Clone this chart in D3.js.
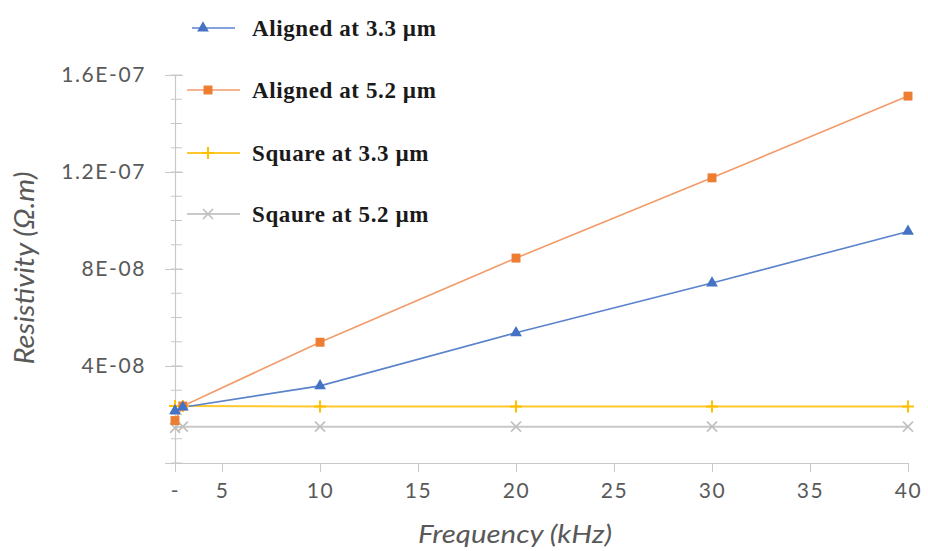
<!DOCTYPE html>
<html>
<head>
<meta charset="utf-8">
<script src="https://cdn.jsdelivr.net/npm/d3@7"></script>
<style>
  html, body { margin: 0; padding: 0; background: #fff; }
  svg { display: block; }
</style>
</head>
<body>
<div id="chart"></div>
<script>
// Data
const frequencies = [2.6, 3.0, 10, 20, 30, 40];
const alignedAt33 = [2.15e-8, 2.3e-8, 3.18e-8, 5.37e-8, 7.42e-8, 9.55e-8];
const alignedAt52 = [1.75e-8, 2.35e-8, 4.98e-8, 8.45e-8, 1.176e-7, 1.513e-7];
const squareAt33 = [2.35e-8, 2.35e-8, 2.33e-8, 2.33e-8, 2.33e-8, 2.33e-8];
const squareAt52 = [1.45e-8, 1.5e-8, 1.5e-8, 1.5e-8, 1.5e-8, 1.5e-8];
const seriesNames = ['Aligned at 3.3 µm', 'Aligned at 5.2 µm', 'Square at 3.3 µm', 'Sqaure at 5.2 µm'];
const xTicks = [2.6, 5, 10, 15, 20, 25, 30, 35, 40];
const xTickLabels = ['-', '5', '10', '15', '20', '25', '30', '35', '40'];
const yTicks = [4e-8, 8e-8, 1.2e-7, 1.6e-7];
const yTickLabels = ['4E-08', '8E-08', '1.2E-07', '1.6E-07'];

const width = 928, height = 551;
const margin = { top: 75, right: 20, bottom: 88, left: 175 };
const w = width - margin.left - margin.right;
const h = height - margin.top - margin.bottom;

const series = [
  { name: seriesNames[0], values: alignedAt33, color: '#4472c4', line: '#5b83cc', sw: 1.6, marker: 'triangle' },
  { name: seriesNames[1], values: alignedAt52, color: '#ed7d31', line: '#f29b68', sw: 1.6, marker: 'square' },
  { name: seriesNames[2], values: squareAt33, color: '#ffc000', line: '#ffc82e', sw: 2, marker: 'plus' },
  { name: seriesNames[3], values: squareAt52, color: '#bfbfbf', line: '#c9c9c9', sw: 2, marker: 'cross' }
];

const x = d3.scaleLinear().domain([2.6, 40]).range([0, w]);
const y = d3.scaleLinear().domain([0, 1.6e-7]).range([h, 0]);

const svg = d3.select('#chart').append('svg')
  .attr('width', width)
  .attr('height', height);

const g = svg.append('g').attr('transform', `translate(${margin.left},${margin.top})`);

const axisColor = '#c8c8c8';
const textColor = '#595959';
const tickFont = 'Lato, "Open Sans", sans-serif';

// Minor y ticks
const yMinor = d3.range(0, 1.6e-7 + 1e-12, 1e-8);
g.append('g').attr('class', 'y-minor')
  .selectAll('line').data(yMinor).join('line')
  .attr('x1', -4).attr('x2', 7)
  .attr('y1', d => y(d)).attr('y2', d => y(d))
  .attr('stroke', axisColor).attr('stroke-width', 1);

// Y axis
const yAxis = g.append('g').attr('class', 'y-axis')
  .call(d3.axisLeft(y).tickValues([0].concat(yTicks)).tickSize(10).tickSizeOuter(0)
    .tickFormat(d => { const i = yTicks.indexOf(d); return i < 0 ? '' : yTickLabels[i]; }));
yAxis.select('.domain').attr('stroke', axisColor).attr('stroke-width', 1.2);
yAxis.selectAll('.tick line').attr('stroke', axisColor).attr('x2', -10).attr('x1', 8);
yAxis.selectAll('.tick text')
  .attr('x', -29)
  .attr('fill', textColor)
  .attr('font-family', tickFont)
  .attr('font-size', 21)
  .attr('letter-spacing', 1.6);

// X axis
const xAxis = g.append('g').attr('class', 'x-axis')
  .attr('transform', `translate(0,${h})`)
  .call(d3.axisBottom(x).tickValues(xTicks).tickSize(9).tickSizeOuter(0)
    .tickFormat((d, i) => xTickLabels[i]));
xAxis.select('.domain').attr('stroke', axisColor).attr('stroke-width', 1.2);
xAxis.selectAll('.tick line').attr('stroke', axisColor);
xAxis.selectAll('.tick text')
  .attr('y', 20)
  .attr('fill', textColor)
  .attr('font-family', tickFont)
  .attr('font-size', 21)
  .attr('letter-spacing', 1.6);

// Lines
const line = d3.line()
  .x((d, i) => x(frequencies[i]))
  .y(d => y(d));

const symbolFor = {
  triangle: d3.symbol(d3.symbolTriangle, 60),
  square: d3.symbol(d3.symbolSquare, 80)
};

function drawMarker(sel, s) {
  if (s.marker === 'plus') {
    sel.append('path').attr('d', 'M-6,0H6M0,-6V6')
      .attr('stroke', s.color).attr('stroke-width', 2).attr('fill', 'none');
  } else if (s.marker === 'cross') {
    sel.append('path').attr('d', 'M-5,-5L5,5M-5,5L5,-5')
      .attr('stroke', s.color).attr('stroke-width', 1.6).attr('fill', 'none');
  } else {
    sel.append('path').attr('d', symbolFor[s.marker]()).attr('fill', s.color);
  }
}

series.slice().reverse().forEach(s => {
  g.append('path')
    .datum(s.values)
    .attr('d', line)
    .attr('fill', 'none')
    .attr('stroke', s.line)
    .attr('stroke-width', s.sw);
});

series.slice().reverse().forEach(s => {
  s.values.forEach((v, i) => {
    const m = g.append('g').attr('transform', `translate(${x(frequencies[i])},${y(v)})`);
    drawMarker(m, s);
  });
});

// Axis titles
svg.append('text')
  .attr('x', 515)
  .attr('y', 543)
  .attr('text-anchor', 'middle')
  .attr('fill', textColor)
  .attr('font-family', tickFont)
  .attr('font-style', 'italic')
  .attr('font-size', 26)
  .attr('textLength', 194)
  .attr('lengthAdjust', 'spacingAndGlyphs')
  .text('Frequency (kHz)');

svg.append('text')
  .attr('transform', 'translate(34,268) rotate(-90)')
  .attr('text-anchor', 'middle')
  .attr('fill', textColor)
  .attr('font-family', tickFont)
  .attr('font-style', 'italic')
  .attr('font-size', 27)
  .attr('textLength', 193)
  .attr('lengthAdjust', 'spacingAndGlyphs')
  .text('Resistivity (Ω.m)');

// Legend
const legendY = [28, 90, 153, 214];
const legend = svg.append('g').attr('class', 'legend');
series.forEach((s, i) => {
  const row = legend.append('g').attr('transform', `translate(0,${legendY[i]})`);
  const x1 = i === 0 ? 192 : 187;
  const x2 = i === 0 ? 235 : 240;
  const mx = i === 0 ? 203 : 208;
  row.append('line').attr('x1', x1).attr('x2', x2)
    .attr('stroke', s.line).attr('stroke-width', s.sw);
  const m = row.append('g').attr('transform', `translate(${mx},0)`);
  drawMarker(m, s);
  row.append('text')
    .attr('x', 252)
    .attr('dy', '0.35em')
    .attr('fill', '#1a1a1a')
    .attr('font-family', '"Liberation Serif", "Times New Roman", serif')
    .attr('font-weight', 'bold')
    .attr('font-size', 23)
    .attr('letter-spacing', 0.6)
    .text(s.name);
});
</script>
</body>
</html>
